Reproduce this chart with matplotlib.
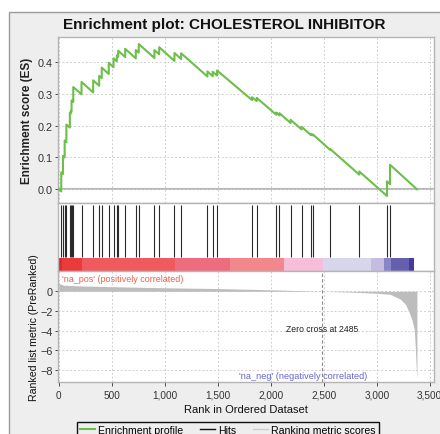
import matplotlib
matplotlib.use("Agg")
import matplotlib.pyplot as plt
from matplotlib.lines import Line2D
from matplotlib.patches import Rectangle

plt.rcParams["font.family"] = ["Liberation Sans", "DejaVu Sans"]

# gene set hits (rank positions) and running ES just before / after each hit
hit_ranks = [23, 39, 55, 71, 104, 112, 120, 136, 214, 324, 381, 405, 471, 516,
             547, 560, 626, 726, 754, 902, 947, 1091, 1154, 1402, 1452, 1493,
             1823, 1867, 2052, 2081, 2187, 2291, 2380, 2398, 2559, 2835, 3096, 3125]
es_before = [-0.007, 0.048, 0.100, 0.148, 0.194, 0.237, 0.243, 0.274, 0.298, 0.304,
             0.325, 0.349, 0.362, 0.383, 0.402, 0.416, 0.415, 0.411, 0.429, 0.412,
             0.424, 0.403, 0.409, 0.354, 0.355, 0.357, 0.280, 0.277, 0.234, 0.232,
             0.208, 0.188, 0.170, 0.169, 0.124, 0.046, -0.021, 0.016]
es_after = [0.053, 0.105, 0.153, 0.203, 0.239, 0.245, 0.279, 0.321, 0.337, 0.342,
            0.356, 0.382, 0.397, 0.411, 0.420, 0.435, 0.441, 0.437, 0.456, 0.437,
            0.446, 0.428, 0.427, 0.370, 0.369, 0.373, 0.289, 0.287, 0.241, 0.239,
            0.218, 0.196, 0.174, 0.172, 0.127, 0.056, 0.025, 0.077]
n_genes = 3379
zero_cross = 2485

# ranked list metric
metric_rank = [0, 10, 50, 200, 500, 1000, 1500, 2000, 2300, 2485, 2800, 3000,
               3127, 3222, 3269, 3300, 3332, 3354, 3363, 3373, 3379]
metric_value = [0.9, 0.75, 0.62, 0.55, 0.47, 0.36, 0.28, 0.15, 0.06, 0.0, -0.1,
                -0.2, -0.31, -0.8, -1.3, -2.0, -2.9, -3.9, -5.6, -8.0, -8.9]

# heat bar along the ranked list
cbar_edges = [0, 30, 220, 1094, 1619, 2122, 2493, 2948, 3071, 3134, 3300, 3347, 3379]
cbar_colors = ["#d92a2e", "#ea3a3c", "#ee5a5d", "#ef6b7e", "#f2888c", "#f5bed9",
               "#d8d6ec", "#c4bddf", "#8985c6", "#6460ad", "#473a9c", "#ffffff"]

x_ticks = [0, 500, 1000, 1500, 2000, 2500, 3000, 3500]
es_ticks = [0.0, 0.1, 0.2, 0.3, 0.4]
metric_ticks = [0, -2, -4, -6, -8]

W, H = 440, 435
fig = plt.figure(figsize=(W / 100, H / 100), dpi=100)
fig.patch.set_facecolor("white")
fig.patches.append(Rectangle((9 / W, -0.1), 1.0, 1 - 13 / H + 0.1,
                             transform=fig.transFigure, facecolor="#eeeeee",
                             edgecolor="#9a9a9a", linewidth=1.0, zorder=-10))


def px_axes(left, top, right, bottom):
    return fig.add_axes([left / W, 1 - bottom / H, (right - left) / W, (bottom - top) / H])


ax_es = px_axes(58.3, 37.7, 434, 204.3)
ax_hits = px_axes(58.3, 204.3, 434, 272)
ax_met = px_axes(58.3, 272, 434, 383)

xlim = (-5, 3540)
grid_kw = dict(color="#d0d0d0", linestyle=(0, (2, 2)), linewidth=0.7)
for ax in (ax_es, ax_hits, ax_met):
    ax.set_xlim(*xlim)
    ax.set_facecolor("white")
    for sp in ax.spines.values():
        sp.set_color("#b5b5b5")
        sp.set_linewidth(1.0)
    ax.tick_params(colors="#333333", labelsize=7.8, length=2, width=0.6, pad=2)

# running enrichment score
xs, ys = [0], [0.0]
for r, lo, hi in zip(hit_ranks, es_before, es_after):
    xs += [r, r]
    ys += [lo, hi]
xs.append(n_genes)
ys.append(0.0)
ax_es.set_ylim(-0.044, 0.479)
ax_es.set_yticks(es_ticks)
ax_es.set_yticklabels([f"{v:.1f}" for v in es_ticks])
ax_es.set_xticks(x_ticks)
ax_es.tick_params(axis="x", length=0, labelbottom=False)
ax_es.grid(True, **grid_kw)
ax_es.axhline(0, color="#b8b8b8", linewidth=1.5, zorder=1)
ax_es.plot(xs, ys, color="#6cbf4a", linewidth=1.5, zorder=3)
ax_es.set_ylabel("Enrichment score (ES)", fontsize=8.5, fontweight="bold", color="#222222")
ax_es.yaxis.set_label_coords(-0.068, 0.5)

# hit marks and heat bar
ax_hits.set_ylim(0, 1)
ax_hits.set_xticks([])
ax_hits.set_yticks([])
ax_hits.vlines(hit_ranks, 0.207, 0.975, color="#2a2a2a", linewidth=0.8)
for i, c in enumerate(cbar_colors):
    ax_hits.bar(cbar_edges[i], 0.19, width=cbar_edges[i + 1] - cbar_edges[i],
                bottom=0.0, align="edge", color=c, linewidth=0)

# ranked list metric
ax_met.set_ylim(-9.25, 2.07)
ax_met.set_yticks(metric_ticks)
ax_met.set_xticks(x_ticks)
ax_met.set_xticklabels([f"{v:,}" for v in x_ticks])
ax_met.tick_params(axis="x", labelsize=7.2, length=3, pad=2.5)
ax_met.grid(True, **grid_kw)
ax_met.fill_between(metric_rank, metric_value, 0, color="#bdbdbd", linewidth=0, zorder=2)
ax_met.axvline(zero_cross, color="#8a8a8a", linestyle=(0, (3, 2)), linewidth=0.8, zorder=3)
ax_met.text(zero_cross, -3.8, f"Zero cross at {zero_cross}", fontsize=6.2, color="#222222",
            ha="center", va="center")
ax_met.text(30, 1.3, "'na_pos' (positively correlated)", fontsize=6.5, color="#f0604f",
            ha="left", va="center")
ax_met.text(2910, -8.6, "'na_neg' (negatively correlated)", fontsize=6.6, color="#6666cc",
            ha="right", va="center")
ax_met.set_ylabel("Ranked list metric (PreRanked)", fontsize=7.6, color="#111111")
ax_met.yaxis.set_label_coords(-0.051, 0.5)
ax_met.set_xlabel("Rank in Ordered Dataset", fontsize=8, color="#111111")
ax_met.xaxis.set_label_coords(0.5, -0.195)

fig.text(224 / W, 1 - 25 / H, "Enrichment plot: CHOLESTEROL INHIBITOR",
         fontsize=11, fontweight="bold", ha="center", va="center", color="#111111")

handles = [
    Line2D([], [], color="#6cbf4a", linewidth=1.5),
    Line2D([], [], color="#111111", linewidth=1.0),
    Line2D([], [], color="#cccccc", linewidth=1.0),
]
leg = fig.legend(handles, ["Enrichment profile", "Hits", "Ranking metric scores"],
                 loc="upper left", bbox_to_anchor=(77 / W, 1 - 423 / H), ncol=3,
                 fontsize=7.6, frameon=True, fancybox=False, edgecolor="#111111",
                 facecolor="#eeeeee", framealpha=1, handlelength=1.4,
                 handletextpad=0.3, columnspacing=1.6, borderpad=0.3,
                 borderaxespad=0)
leg.get_frame().set_linewidth(1.0)

fig.savefig("out.png", dpi=100)
